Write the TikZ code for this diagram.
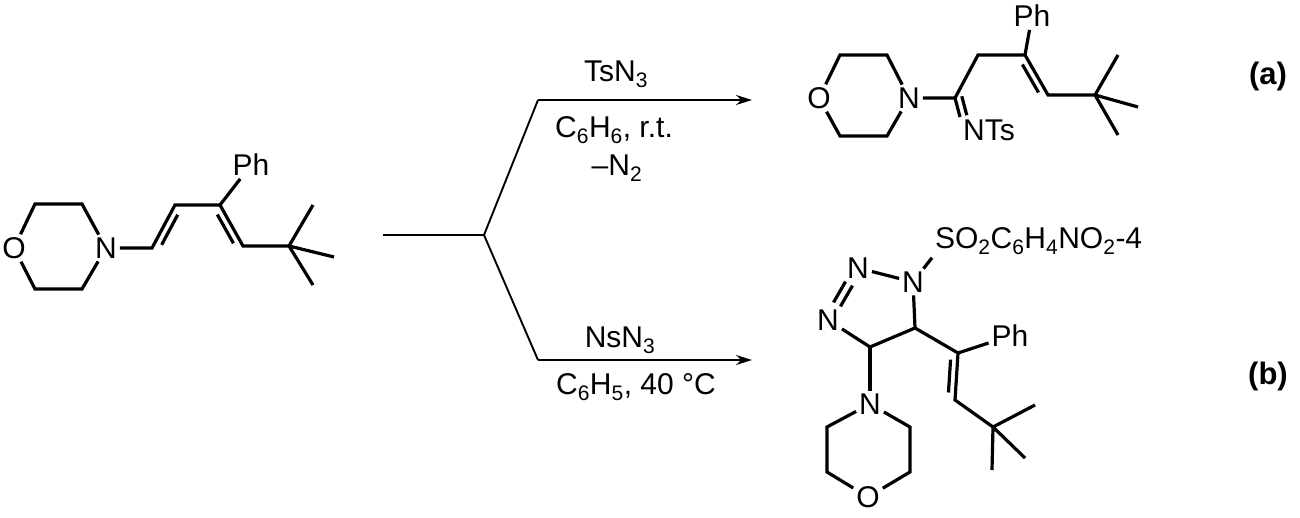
\documentclass[tikz,border=0pt]{standalone}
\usepackage{fontspec}
\setmainfont{Liberation Sans}
\usetikzlibrary{calc,arrows.meta}
\newcommand\dbd[3]{\draw ($(#1)!0.15!(#2)!7pt!#3:(#2)$) -- ($(#2)!0.15!(#1)!7pt!-#3:(#1)$);}
\newcommand\sbs[1]{\textsubscript{#1}}
\begin{document}
\begin{tikzpicture}[x=1pt,y=-1pt,line width=3.2pt,
  every node/.style={font=\fontsize{30}{36}\selectfont},
  atom/.style={inner sep=1.5pt},
  lbl/.style={font=\fontsize{31}{36}\selectfont\bfseries}]
\useasboundingbox (0,0) rectangle (1300,518);
% ---- starting material
\node[atom] (sO) at (14,248) {O};
\node[atom] (sN) at (106,248) {N};
\coordinate (s1) at (35,204); \coordinate (s2) at (82,204);
\coordinate (s3) at (35,289); \coordinate (s4) at (82,289);
\draw (sO) -- (s1) -- (s2) -- (sN) -- (s4) -- (s3) -- (sO);
\coordinate (c1) at (152,248); \coordinate (c2) at (175,205);
\coordinate (c3) at (220,205); \coordinate (c4) at (243,246);
\coordinate (c5) at (289,246);
\node[atom] (sPh) at (251,165) {Ph};
\draw (sN) -- (c1) -- (c2) -- (c3) -- (c4) -- (c5);
\draw (c3) -- (sPh);
\dbd{c1}{c2}{-90}
\dbd{c3}{c4}{-90}
\coordinate (m1) at (313,205); \coordinate (m2) at (334,257); \coordinate (m3) at (313,285);
\draw (c5) -- (m1) (c5) -- (m2) (c5) -- (m3);
% ---- branching arrows
\coordinate (b0) at (383,235); \coordinate (b1) at (484,235);
\coordinate (bu) at (538,100); \coordinate (bd) at (538,360);
\coordinate (eu) at (752,100); \coordinate (ed) at (752,360);
\draw[line width=1.9pt] (b0) -- (b1) -- (bu) (b1) -- (bd);
\draw[line width=1.9pt,-{Stealth[length=16pt,width=10pt]}] (bu) -- (eu);
\draw[line width=1.9pt,-{Stealth[length=16pt,width=10pt]}] (bd) -- (ed);
\node (r1) at (616,74) {TsN\sbs{3}};
\node (r2) at (614,130) {C\sbs{6}H\sbs{6}, r.t.};
\node (r3) at (617,168) {–N\sbs{2}};
\node (r4) at (620,340) {NsN\sbs{3}};
\node (r5) at (636,387) {C\sbs{6}H\sbs{5}, 40 °C};
% ---- product a
\node[atom] (aO) at (819,98) {O};
\node[atom] (aN) at (909,98) {N};
\coordinate (a1) at (840,55); \coordinate (a2) at (887,55);
\coordinate (a3) at (840,136); \coordinate (a4) at (887,136);
\draw (aO) -- (a1) -- (a2) -- (aN) -- (a4) -- (a3) -- (aO);
\coordinate (ac1) at (955,98); \coordinate (ac2) at (978,55);
\coordinate (ac3) at (1025,55); \coordinate (ac4) at (1048,95);
\coordinate (ac5) at (1095,95);
\node[atom] (aPh) at (1032,16) {Ph};
\node[atom,anchor=north west] (aNTs) at (960,117) {NTs};
\draw (aN) -- (ac1) -- (ac2) -- (ac3) -- (ac4) -- (ac5);
\draw (ac3) -- (aPh);
\dbd{ac3}{ac4}{-90}
\draw (ac1) -- (aNTs.north west);
\draw ($(ac1)!7pt!90:(aNTs.north west)$) -- ($(aNTs.north west)!7pt!-90:(ac1)$);
\coordinate (am1) at (1118,55); \coordinate (am2) at (1138,107); \coordinate (am3) at (1118,135);
\draw (ac5) -- (am1) (ac5) -- (am2) (ac5) -- (am3);
\node[lbl] (la) at (1268,76) {(a)};
% ---- product b
\node[atom] (bN1) at (913,282) {N};
\node[atom] (bN2) at (858,268) {N};
\node[atom] (bN3) at (828,320) {N};
\coordinate (bC4) at (870,347); \coordinate (bC5) at (915,328);
\node[atom,anchor=west] (bS) at (932,241) {SO\sbs{2}C\sbs{6}H\sbs{4}NO\sbs{2}-4};
\draw (bN1) -- (bS.south west);
\draw (bN2) -- (bN1) -- (bC5) -- (bC4) -- (bN3);
\draw ($(bN2)!0.3!(bN3)!4pt!90:(bN3)$) -- ($(bN3)!0.3!(bN2)!4pt!-90:(bN2)$);
\draw ($(bN2)!0.3!(bN3)!4pt!-90:(bN3)$) -- ($(bN3)!0.3!(bN2)!4pt!90:(bN2)$);
\coordinate (bv1) at (958,353); \coordinate (bv2) at (955,400);
\coordinate (bt) at (993,427);
\node[atom] (bPh) at (1010,336) {Ph};
\draw (bC5) -- (bv1) -- (bv2) -- (bt);
\draw (bv1) -- (bPh);
\dbd{bv1}{bv2}{-90}
\coordinate (bm1) at (1035,405); \coordinate (bm2) at (1025,458); \coordinate (bm3) at (992,470);
\draw (bt) -- (bm1) (bt) -- (bm2) (bt) -- (bm3);
\node[atom] (bN) at (870,404) {N};
\node[atom] (bO) at (868,497) {O};
\coordinate (bq1) at (827,427); \coordinate (bq2) at (827,472);
\coordinate (bq3) at (910,427); \coordinate (bq4) at (910,472);
\draw (bC4) -- (bN);
\draw (bN) -- (bq1) -- (bq2) -- (bO) -- (bq4) -- (bq3) -- (bN);
\node[lbl] (lb) at (1268,376) {(b)};
\end{tikzpicture}
\end{document}
